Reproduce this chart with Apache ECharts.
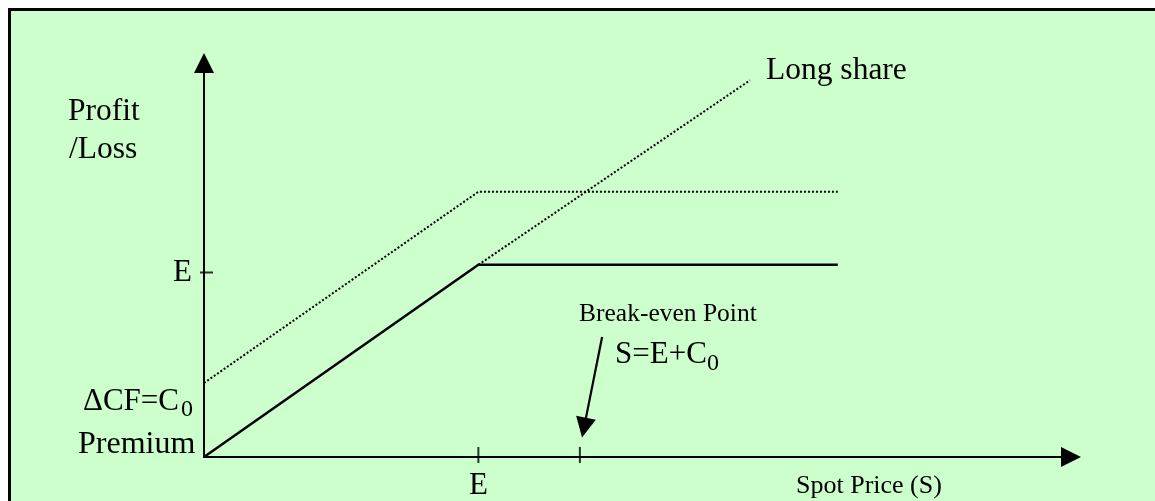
<!DOCTYPE html>
<html>
<head>
<meta charset="utf-8">
<script src="https://cdn.jsdelivr.net/npm/echarts@6/dist/echarts.min.js"></script>
<style>
  html, body { margin: 0; padding: 0; background: #ffffff; }
  #chart { width: 1155px; height: 501px; }
</style>
</head>
<body>
<div id="chart"></div>
<script>
// ---- data (axis units: strike price E = 100) ----
const xAxisMax = 316;
const yAxisMax = 205;
const strikeE = 100;
const breakEvenS = 137;
const yTickE = 96;
const coveredPayoffX = [0, 100, 231];
const coveredPayoffY = [0, 100, 100];
const coveredProfitY = [38.5, 138, 138];
const longShareX = [100, 199];
const longShareY = [100, 196];
const arrowFrom = [145.1, 62.4];
const arrowTo = [138.5, 15.3];
const xTickValues = [strikeE, breakEvenS];
const xTickLabels = { 100: 'E' };
const yTickValues = [yTickE];
const yTickLabels = { 96: 'E' };

const FONT = "'Liberation Serif', 'Times New Roman', serif";
const zip = (xs, ys) => xs.map((x, i) => [x, ys[i]]);

const chart = echarts.init(document.getElementById('chart'), null, { renderer: 'canvas' });

function txt(text, left, baseline, size) {
  return {
    type: 'text', z: 100, silent: true,
    x: left, y: baseline - 0.3375 * size,
    style: { text: text, font: size + 'px ' + FONT, fill: '#000', align: 'left', verticalAlign: 'middle' }
  };
}

const option = {
  animation: false,
  backgroundColor: '#ffffff',
  grid: { left: 204, right: 84, top: 63, bottom: 44, containLabel: false },
  xAxis: {
    type: 'value', min: 0, max: xAxisMax,
    axisLine: { show: true, onZero: false, symbol: ['none', 'triangle'], symbolSize: [20, 20],
      lineStyle: { color: '#000', width: 2 } },
    axisTick: { show: false },
    splitLine: { show: false },
    axisLabel: {
      show: true, customValues: [strikeE], margin: 13,
      formatter: v => xTickLabels[v] || '',
      color: '#000', fontSize: 31, fontFamily: FONT
    }
  },
  yAxis: {
    type: 'value', min: 0, max: yAxisMax,
    axisLine: { show: true, onZero: false, symbol: ['none', 'triangle'], symbolSize: [20, 20],
      lineStyle: { color: '#000', width: 2 } },
    axisTick: { show: false },
    splitLine: { show: false },
    axisLabel: {
      show: true, customValues: yTickValues, margin: 12,
      formatter: v => yTickLabels[v] || '',
      color: '#000', fontSize: 31, fontFamily: FONT
    }
  },
  series: [
    {
      type: 'line', data: zip(coveredPayoffX, coveredPayoffY), symbol: 'none',
      lineStyle: { color: '#000', width: 2.5 }, z: 5
    },
    {
      type: 'line', data: zip(coveredPayoffX, coveredProfitY), symbol: 'none',
      lineStyle: { color: '#000', width: 2, type: [2, 2] }, z: 5
    },
    {
      type: 'line', data: zip(longShareX, longShareY), symbol: 'none',
      lineStyle: { color: '#000', width: 2, type: [2, 2] }, z: 5
    },
    {
      type: 'scatter', data: xTickValues.map(v => [v, 0]), symbol: 'rect',
      symbolSize: [2, 16], symbolOffset: [0, -2], itemStyle: { color: '#000' }, z: 6
    },
    {
      type: 'scatter', data: yTickValues.map(v => [0, v]), symbol: 'rect',
      symbolSize: [13, 2], symbolOffset: [2.5, 0], itemStyle: { color: '#000' }, z: 6
    },
    {
      type: 'line', data: [], symbol: 'none',
      markLine: {
        silent: true, symbol: ['none', 'triangle'], symbolSize: [20, 20],
        label: { show: false },
        lineStyle: { color: '#000', width: 2.2, type: 'solid' },
        data: [[{ coord: arrowFrom }, { coord: arrowTo }]]
      }
    }
  ],
  graphic: {
    elements: [
      { type: 'rect', z: -100, silent: true,
        shape: { x: 9.5, y: 9.5, width: 1170, height: 600 },
        style: { fill: '#CCFFCC', stroke: '#000', lineWidth: 3 } },
      txt('Profit', 68, 122, 31.5),
      txt('/Loss', 69, 160, 31.5),
      txt('\u0394CF=C', 83, 412, 31),
      txt('0', 181, 418, 24),
      txt('Premium', 78, 455, 32),
      txt('Long share', 766, 81, 31.5),
      txt('Break-even Point', 579, 323, 25.5),
      txt('S=E+C', 615, 365, 31),
      txt('0', 707, 372, 24),
      txt('Spot Price (S)', 796, 495, 26)
    ]
  }
};
chart.setOption(option);
</script>
</body>
</html>
